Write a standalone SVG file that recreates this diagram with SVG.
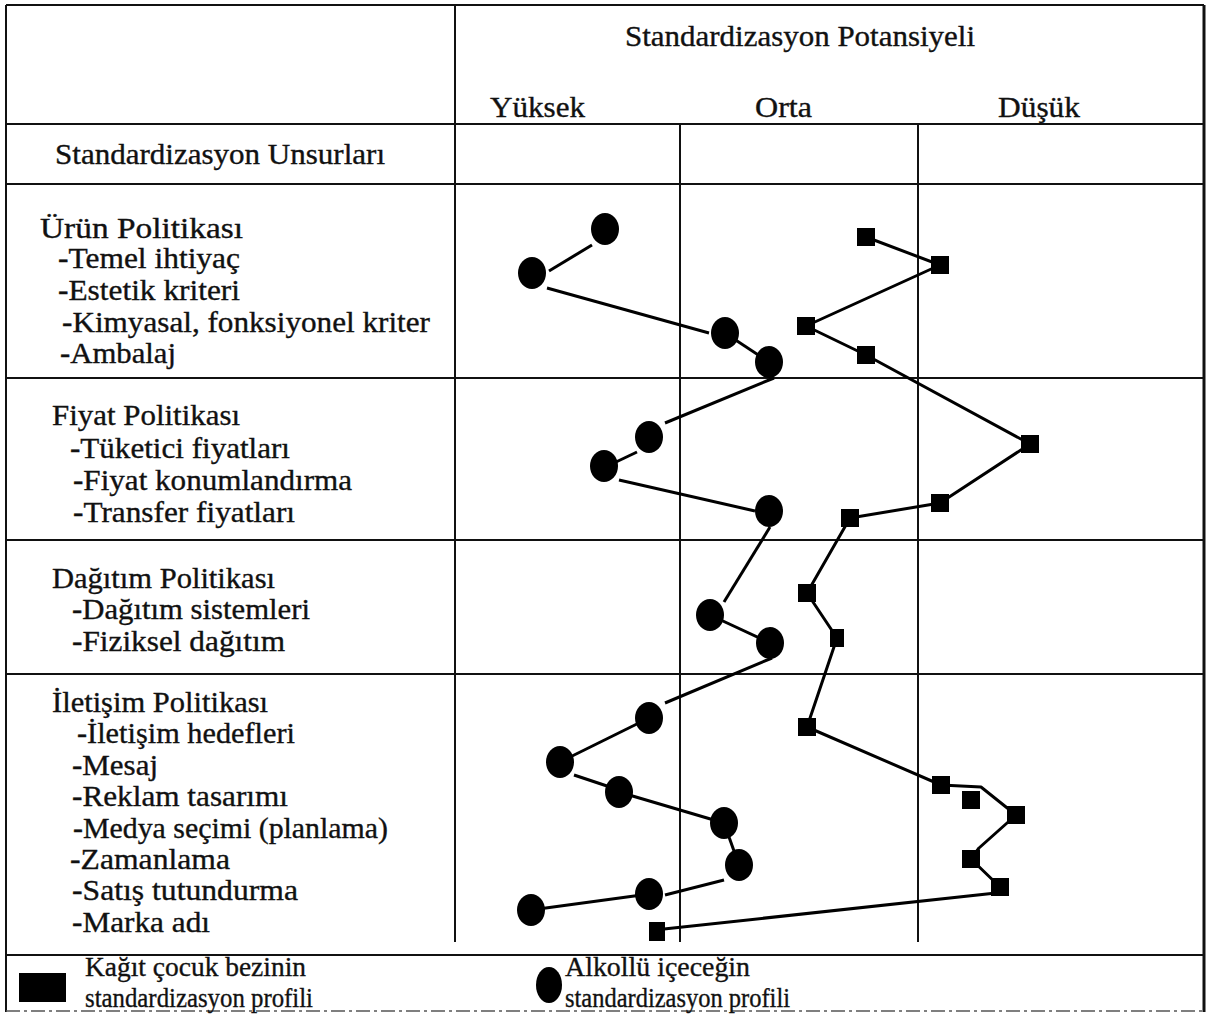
<svg xmlns="http://www.w3.org/2000/svg" width="1210" height="1014" viewBox="0 0 1210 1014">
  <style>
    .grid { stroke: #111; stroke-width: 2; fill: none; }
    .frame { stroke: #111; stroke-width: 3; fill: none; }
    .faint { stroke: #555; stroke-width: 1.5; stroke-dasharray: 14 4 3 4; fill: none; }
    .lbl { font-family: "Liberation Serif", "Times New Roman", serif; font-size: 29px; fill: #111; stroke: #111; stroke-width: 0.35; }
    .hdr { font-family: "Liberation Serif", "Times New Roman", serif; font-size: 29px; fill: #111; stroke: #111; stroke-width: 0.35; }
    .leg { font-family: "Liberation Serif", "Times New Roman", serif; font-size: 28px; fill: #111; stroke: #111; stroke-width: 0.35; }
    .link { stroke: #000; stroke-width: 3; fill: none; stroke-linejoin: round; }
    .dot { fill: #000; }
    .sq { fill: #000; }
  </style>
  <defs>
    <ellipse id="dotShape" cx="0" cy="0" rx="14" ry="16" class="dot"/>
    <rect id="sqShape" x="-9" y="-9" width="18" height="18" class="sq"/>
  </defs>

  <rect width="1210" height="1014" fill="#fff"/>

  <!-- table grid -->
  <g id="grid">
    <line class="grid" x1="6" y1="5" x2="1204" y2="5"/>
    <line class="grid" x1="6" y1="5" x2="6" y2="1012"/>
    <line class="frame" x1="1204" y1="5" x2="1204" y2="1012"/>
    <line class="grid" x1="6" y1="124" x2="1204" y2="124"/>
    <line class="grid" x1="6" y1="184" x2="1204" y2="184"/>
    <line class="grid" x1="6" y1="378" x2="1204" y2="378"/>
    <line class="grid" x1="6" y1="540" x2="1204" y2="540"/>
    <line class="grid" x1="6" y1="674" x2="1204" y2="674"/>
    <line class="grid" x1="6" y1="955" x2="1204" y2="955"/>
    <line class="faint" x1="6" y1="1011" x2="1204" y2="1011"/>
    <line class="grid" x1="455" y1="5" x2="455" y2="942"/>
    <line class="grid" x1="680" y1="124" x2="680" y2="942"/>
    <line class="grid" x1="918" y1="124" x2="918" y2="942"/>
  </g>

  <!-- column headers -->
  <g id="headers">
    <text class="hdr" x="625" y="46" textLength="350" lengthAdjust="spacingAndGlyphs">Standardizasyon Potansiyeli</text>
    <text class="hdr" x="490" y="117" textLength="95" lengthAdjust="spacingAndGlyphs">Yüksek</text>
    <text class="hdr" x="755" y="117" textLength="57" lengthAdjust="spacingAndGlyphs">Orta</text>
    <text class="hdr" x="998" y="117" textLength="82" lengthAdjust="spacingAndGlyphs">Düşük</text>
    <text class="lbl" x="55" y="164" textLength="330" lengthAdjust="spacingAndGlyphs">Standardizasyon Unsurları</text>
  </g>

  <!-- row labels -->
  <g id="labels">
    <text class="lbl" x="40" y="238" textLength="203" lengthAdjust="spacingAndGlyphs">Ürün Politikası</text>
    <text class="lbl" x="58" y="268" textLength="182" lengthAdjust="spacingAndGlyphs">-Temel ihtiyaç</text>
    <text class="lbl" x="58" y="300" textLength="182" lengthAdjust="spacingAndGlyphs">-Estetik kriteri</text>
    <text class="lbl" x="62" y="332" textLength="368" lengthAdjust="spacingAndGlyphs">-Kimyasal, fonksiyonel kriter</text>
    <text class="lbl" x="60" y="363" textLength="116" lengthAdjust="spacingAndGlyphs">-Ambalaj</text>

    <text class="lbl" x="52" y="425" textLength="188" lengthAdjust="spacingAndGlyphs">Fiyat Politikası</text>
    <text class="lbl" x="70" y="458" textLength="220" lengthAdjust="spacingAndGlyphs">-Tüketici fiyatları</text>
    <text class="lbl" x="73" y="490" textLength="279" lengthAdjust="spacingAndGlyphs">-Fiyat konumlandırma</text>
    <text class="lbl" x="73" y="522" textLength="222" lengthAdjust="spacingAndGlyphs">-Transfer fiyatları</text>

    <text class="lbl" x="52" y="588" textLength="223" lengthAdjust="spacingAndGlyphs">Dağıtım Politikası</text>
    <text class="lbl" x="72" y="619" textLength="238" lengthAdjust="spacingAndGlyphs">-Dağıtım sistemleri</text>
    <text class="lbl" x="72" y="651" textLength="213" lengthAdjust="spacingAndGlyphs">-Fiziksel dağıtım</text>

    <text class="lbl" x="52" y="712" textLength="216" lengthAdjust="spacingAndGlyphs">İletişim Politikası</text>
    <text class="lbl" x="77" y="743" textLength="218" lengthAdjust="spacingAndGlyphs">-İletişim hedefleri</text>
    <text class="lbl" x="72" y="775" textLength="86" lengthAdjust="spacingAndGlyphs">-Mesaj</text>
    <text class="lbl" x="72" y="806" textLength="216" lengthAdjust="spacingAndGlyphs">-Reklam tasarımı</text>
    <text class="lbl" x="73" y="838" textLength="315" lengthAdjust="spacingAndGlyphs">-Medya seçimi (planlama)</text>
    <text class="lbl" x="70" y="869" textLength="160" lengthAdjust="spacingAndGlyphs">-Zamanlama</text>
    <text class="lbl" x="72" y="900" textLength="226" lengthAdjust="spacingAndGlyphs">-Satış tutundurma</text>
    <text class="lbl" x="72" y="932" textLength="138" lengthAdjust="spacingAndGlyphs">-Marka adı</text>
  </g>

  <!-- profile lines -->
  <g id="connectors">
    <!-- alcoholic beverage profile -->
    <polyline class="link" points="592,245 549,271"/>
    <polyline class="link" points="547,288 709,333"/>
    <polyline class="link" points="725,333 769,362"/>
    <polyline class="link" points="774,378 665,423"/>
    <polyline class="link" points="637,452 616,462"/>
    <polyline class="link" points="619,480 755,511"/>
    <polyline class="link" points="770,527 724,602"/>
    <polyline class="link" points="710,615 770,643"/>
    <polyline class="link" points="772,658 665,703"/>
    <polyline class="link" points="649,718 560,762"/>
    <polyline class="link" points="574,775 607,786"/>
    <polyline class="link" points="619,792 724,823"/>
    <polyline class="link" points="724,823 739,865"/>
    <polyline class="link" points="724,880 665,895"/>
    <polyline class="link" points="649,894 531,910"/>
    <!-- paper diaper profile -->
    <polyline class="link" points="866,237 940,265 806,326 866,355 1030,444 940,503 850,518 807,593 837,638 807,727 941,785 981,787 1016,815 979,848 971,859 1000,887"/>
    <polyline class="link" points="996,893 664,929"/>
  </g>

  <!-- alcoholic beverage markers -->
  <g id="c1"><use href="#dotShape" x="605" y="229"/></g>
  <g id="c2"><use href="#dotShape" x="532" y="273"/></g>
  <g id="c3"><use href="#dotShape" x="725" y="333"/></g>
  <g id="c4"><use href="#dotShape" x="769" y="362"/></g>
  <g id="c5"><use href="#dotShape" x="649" y="437"/></g>
  <g id="c6"><use href="#dotShape" x="604" y="466"/></g>
  <g id="c7"><use href="#dotShape" x="769" y="511"/></g>
  <g id="c8"><use href="#dotShape" x="710" y="615"/></g>
  <g id="c9"><use href="#dotShape" x="770" y="643"/></g>
  <g id="c10"><use href="#dotShape" x="649" y="718"/></g>
  <g id="c11"><use href="#dotShape" x="560" y="762"/></g>
  <g id="c12"><use href="#dotShape" x="619" y="792"/></g>
  <g id="c13"><use href="#dotShape" x="724" y="823"/></g>
  <g id="c14"><use href="#dotShape" x="739" y="865"/></g>
  <g id="c15"><use href="#dotShape" x="649" y="894"/></g>
  <g id="c16"><use href="#dotShape" x="531" y="910"/></g>

  <!-- paper diaper markers -->
  <g id="s1"><use href="#sqShape" x="866" y="237"/></g>
  <g id="s2"><use href="#sqShape" x="940" y="265"/></g>
  <g id="s3"><use href="#sqShape" x="806" y="326"/></g>
  <g id="s4"><use href="#sqShape" x="866" y="355"/></g>
  <g id="s5"><use href="#sqShape" x="1030" y="444"/></g>
  <g id="s6"><use href="#sqShape" x="940" y="503"/></g>
  <g id="s7"><use href="#sqShape" x="850" y="518"/></g>
  <g id="s8"><use href="#sqShape" x="807" y="593"/></g>
  <g id="s9"><rect x="830" y="629" width="14" height="18" class="sq"/></g>
  <g id="s10"><use href="#sqShape" x="807" y="727"/></g>
  <g id="s11"><use href="#sqShape" x="941" y="785"/></g>
  <g id="s12"><use href="#sqShape" x="971" y="800"/></g>
  <g id="s13"><use href="#sqShape" x="1016" y="815"/></g>
  <g id="s14"><use href="#sqShape" x="971" y="859"/></g>
  <g id="s15"><use href="#sqShape" x="1000" y="887"/></g>
  <g id="s16"><rect x="649" y="922" width="16" height="19" class="sq"/></g>

  <!-- legend -->
  <g id="legend-diaper">
    <rect x="19" y="973" width="47" height="29" class="sq"/>
    <text class="leg" x="85" y="976" textLength="221" lengthAdjust="spacingAndGlyphs">Kağıt çocuk bezinin</text>
    <text class="leg" x="85" y="1007" textLength="228" lengthAdjust="spacingAndGlyphs">standardizasyon profili</text>
  </g>
  <g id="legend-beverage">
    <ellipse cx="549" cy="985" rx="13" ry="18" class="dot"/>
    <text class="leg" x="565" y="976" textLength="185" lengthAdjust="spacingAndGlyphs">Alkollü içeceğin</text>
    <text class="leg" x="565" y="1007" textLength="225" lengthAdjust="spacingAndGlyphs">standardizasyon profili</text>
  </g>
</svg>
